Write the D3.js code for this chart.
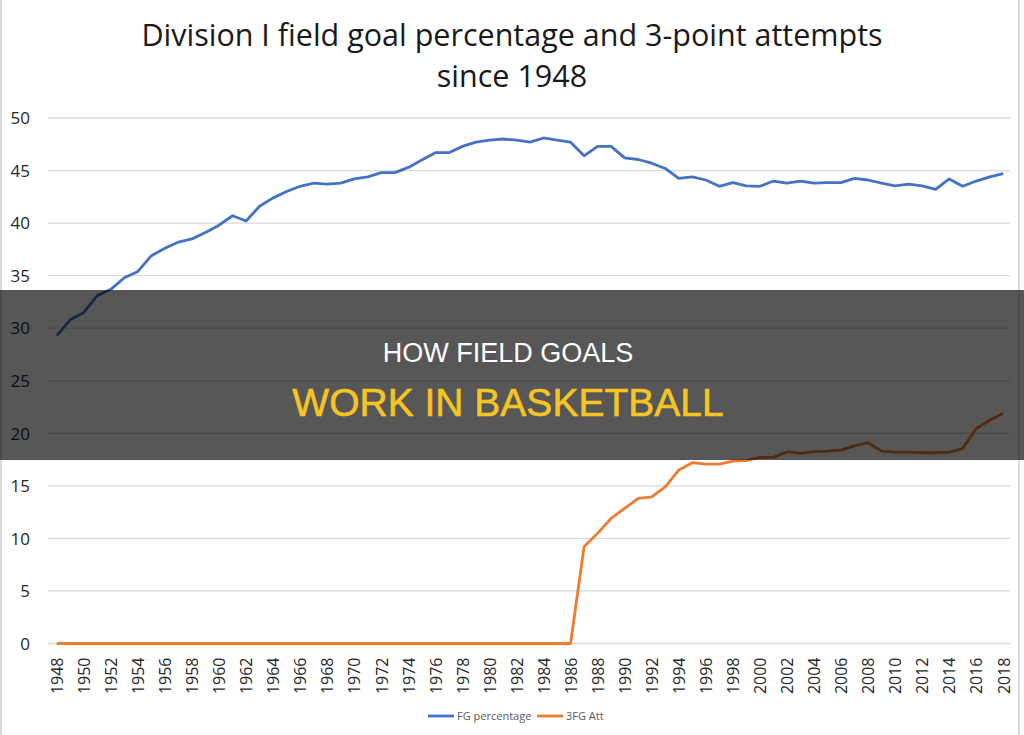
<!DOCTYPE html>
<html>
<head>
<meta charset="utf-8">
<script src="https://cdn.jsdelivr.net/npm/d3@7"></script>
<style>
  html, body { margin: 0; padding: 0; background: #fff; }
  svg { display: block; font-family: "Open Sans", "Noto Sans", sans-serif; }
</style>
</head>
<body>
<div class="chart"></div>
<script>
const width = 1024;
const height = 735;

// years 1948..2018
const years = d3.range(1948, 2019);
const yTicks = [0, 5, 10, 15, 20, 25, 30, 35, 40, 45, 50];
const xTickYears = years.filter(y => (y - 1948) % 2 === 0);

const fgPct = [
  29.3, 30.8, 31.5, 33.1, 33.7, 34.8, 35.4, 36.9, 37.6, 38.2,
  38.5, 39.1, 39.8, 40.7, 40.2, 41.6, 42.4, 43.0, 43.5, 43.8,
  43.7, 43.8, 44.2, 44.4, 44.8, 44.8, 45.3, 46.0, 46.7, 46.7,
  47.3, 47.7, 47.9, 48.0, 47.9, 47.7, 48.1, 47.9, 47.7, 46.4,
  47.3, 47.3, 46.2, 46.05, 45.7, 45.2, 44.25, 44.4, 44.1, 43.5,
  43.85, 43.55, 43.5, 44.0, 43.8, 44.0, 43.8, 43.85, 43.85, 44.25,
  44.1, 43.8, 43.55, 43.7, 43.55, 43.2, 44.2, 43.5, 44.0, 44.4,
  44.7
];

const threeAtt = [
  0, 0, 0, 0, 0, 0, 0, 0, 0, 0,
  0, 0, 0, 0, 0, 0, 0, 0, 0, 0,
  0, 0, 0, 0, 0, 0, 0, 0, 0, 0,
  0, 0, 0, 0, 0, 0, 0, 0, 0, 9.2,
  10.5, 11.9, 12.85, 13.8, 13.95, 14.9, 16.5, 17.2, 17.07, 17.07,
  17.35, 17.4, 17.7, 17.7, 18.25, 18.1, 18.25, 18.3, 18.4, 18.8,
  19.1, 18.3, 18.2, 18.2, 18.15, 18.15, 18.2, 18.55, 20.45, 21.25,
  21.9
];

const series = [
  { name: "FG percentage", values: fgPct, color: "#4472c4" },
  { name: "3FG Att", values: threeAtt, color: "#ed7d31" }
];

const plot = { left: 50, right: 1010, top: 118, bottom: 643.5 };

const xScale = d3.scalePoint()
    .domain(years)
    .range([plot.left, plot.right])
    .padding(0.5);

const yScale = d3.scaleLinear()
    .domain([0, 50])
    .range([plot.bottom, plot.top]);

const svg = d3.select("div.chart")
    .append("svg")
    .attr("width", width)
    .attr("height", height)
    .attr("viewBox", [0, 0, width, height]);

// frame edges
svg.append("line").attr("x1", 1).attr("x2", 1).attr("y1", 0).attr("y2", height)
    .attr("stroke", "#d9d9d9").attr("stroke-width", 2);
svg.append("line").attr("x1", 1019).attr("x2", 1019).attr("y1", 0).attr("y2", height)
    .attr("stroke", "#d9d9d9").attr("stroke-width", 2);

// title
const title = svg.append("text")
    .attr("text-anchor", "middle")
    .attr("fill", "#1a1a1a")
    .attr("font-size", 30.5);
title.append("tspan").attr("x", 512).attr("y", 46)
    .text("Division I field goal percentage and 3-point attempts");
title.append("tspan").attr("x", 512).attr("y", 87)
    .text("since 1948");

// gridlines
svg.append("g")
    .attr("class", "grid")
    .selectAll("line")
    .data(yTicks)
    .join("line")
    .attr("x1", plot.left - 2)
    .attr("x2", plot.right)
    .attr("y1", d => yScale(d))
    .attr("y2", d => yScale(d))
    .attr("stroke", "#d9d9d9")
    .attr("stroke-width", 1.3);

// y axis labels
const yAxis = svg.append("g")
    .attr("transform", `translate(${plot.left - 20},0)`)
    .call(d3.axisLeft(yScale).tickValues(yTicks).tickSize(0).tickPadding(0));
yAxis.select(".domain").remove();
yAxis.selectAll("text")
    .attr("font-family", "\"Open Sans\", sans-serif")
    .attr("font-size", 17)
    .attr("fill", "#262626")
    .attr("dy", "0.34em");

// x axis labels (rotated)
const xAxis = svg.append("g")
    .attr("transform", `translate(0,${plot.bottom})`)
    .call(d3.axisBottom(xScale).tickValues(xTickYears).tickSize(0).tickPadding(0));
xAxis.select(".domain").remove();
xAxis.selectAll("text")
    .attr("font-family", "\"Open Sans\", sans-serif")
    .attr("font-size", 16)
    .attr("fill", "#262626")
    .attr("text-anchor", "end")
    .attr("transform", "rotate(-90)")
    .attr("x", -14)
    .attr("y", 0)
    .attr("dy", "0.36em");

// lines
const line = d3.line()
    .x((d, i) => xScale(years[i]))
    .y(d => yScale(d));

svg.append("g")
    .selectAll("path")
    .data(series)
    .join("path")
    .attr("d", d => line(d.values))
    .attr("fill", "none")
    .attr("stroke", d => d.color)
    .attr("stroke-width", 2.8)
    .attr("stroke-linejoin", "round");

// legend
const legendItems = [
  { name: "FG percentage", color: "#4472c4", x: 428 },
  { name: "3FG Att", color: "#ed7d31", x: 537 }
];
const legend = svg.append("g").attr("transform", "translate(0,716)");
const li = legend.selectAll("g").data(legendItems).join("g")
    .attr("transform", d => `translate(${d.x},0)`);
li.append("line").attr("x1", 0).attr("x2", 26).attr("y1", 0).attr("y2", 0)
    .attr("stroke", d => d.color).attr("stroke-width", 2.8);
li.append("text").attr("x", 29).attr("y", 0).attr("dy", "0.35em")
    .attr("font-size", 11).attr("fill", "#595959")
    .text(d => d.name);

// overlay banner
svg.append("rect")
    .attr("x", 0).attr("y", 290)
    .attr("width", width).attr("height", 170)
    .attr("fill", "rgba(0,0,0,0.66)");

svg.append("text")
    .attr("x", 508).attr("y", 362)
    .attr("text-anchor", "middle")
    .attr("font-family", "\"Liberation Sans\", Arial, sans-serif")
    .attr("font-size", 27)
    .attr("fill", "#ffffff")
    .text("HOW FIELD GOALS");

svg.append("text")
    .attr("x", 508).attr("y", 416)
    .attr("text-anchor", "middle")
    .attr("font-family", "\"Liberation Sans\", Arial, sans-serif")
    .attr("font-size", 39)
    .attr("fill", "#f6c423")
    .attr("stroke", "#f6c423")
    .attr("stroke-width", 0.6)
    .text("WORK IN BASKETBALL");
</script>
</body>
</html>
